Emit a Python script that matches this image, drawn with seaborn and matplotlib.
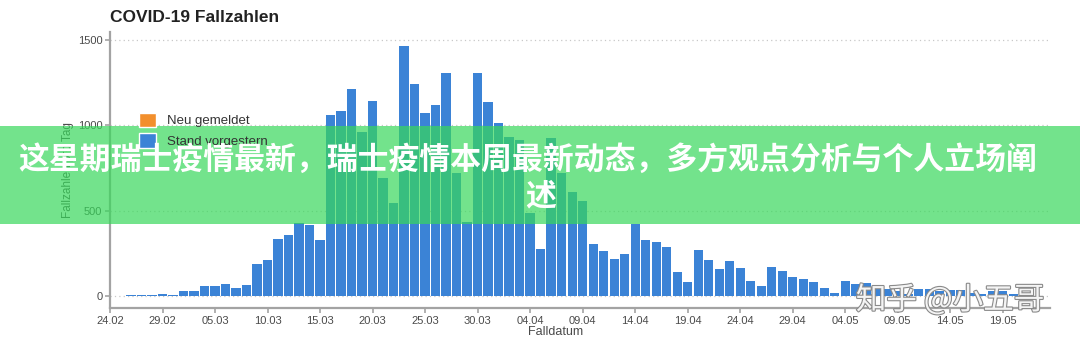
import matplotlib
matplotlib.use("Agg")
import matplotlib.pyplot as plt
import matplotlib.patheffects as pe
from matplotlib.patches import Patch, Rectangle
import numpy as np
import pandas as pd
import seaborn as sns

# Fallzahlen pro Tag ab 26.02.2020
faelle = [
    10, 10, 10, 12, 10, 33, 33, 60, 60, 74, 49, 68,            # 26.02 - 08.03
    190, 214, 334, 358, 426, 417, 330,                         # 09.03 - 15.03
    1060, 1084, 1212, 960, 1142, 692, 548,                     # 16.03 - 22.03
    1461, 1243, 1072, 1115, 1305, 719, 437,                    # 23.03 - 29.03
    1305, 1136, 1014, 929, 913, 486, 279,                      # 30.03 - 05.04
    925, 720, 612, 559, 307, 264, 218,                         # 06.04 - 12.04
    245, 423, 330, 317, 288, 144, 86,                          # 13.04 - 19.04
    272, 214, 160, 208, 165, 87, 60,                           # 20.04 - 26.04
    173, 151, 113, 101, 82, 48, 20,                            # 27.04 - 03.05
    91, 73, 76, 49, 42, 30, 15,                                # 04.05 - 10.05
    43, 43, 30, 35, 35, 22, 15,                                # 11.05 - 17.05
    33, 33, 15,                                                # 18.05 - 20.05
]
erster_tag = "2020-02-26"
achsen_start = "2020-02-24"
tick_labels = ["24.02", "29.02", "05.03", "10.03", "15.03", "20.03", "25.03",
               "30.03", "04.04", "09.04", "14.04", "19.04", "24.04", "29.04",
               "04.05", "09.05", "14.05", "19.05"]
y_ticks = [0, 500, 1000, 1500]
legend_labels = ["Neu gemeldet", "Stand vorgestern"]
title = "COVID-19 Fallzahlen"
banner_lines = ["这星期瑞士疫情最新，瑞士疫情本周最新动态，多方观点分析与个人立场阐", "述"]
watermark = "知乎 @小五哥"

blue = "#3b83d6"
orange = "#f28f2c"
grey = "#a3a3a3"

df = pd.DataFrame({
    "datum": pd.date_range(erster_tag, periods=len(faelle), freq="D"),
    "faelle": faelle,
})
df["tag"] = (df["datum"] - pd.Timestamp(achsen_start)).dt.days

sns.set_theme(style="white")
plt.rcParams["font.family"] = ["Liberation Sans", "Noto Sans CJK SC", "DejaVu Sans"]
cjk = ["Noto Sans CJK SC", "DejaVu Sans"]

W, H = 1080, 351
fig = plt.figure(figsize=(W / 100, H / 100), dpi=100)
ax = fig.add_axes([110 / W, 1 - 308 / H, 940 / W, (308 - 32) / H])

sns.barplot(data=df, x="tag", y="faelle", native_scale=True, color=blue,
            saturation=1, width=0.88, edgecolor="none", ax=ax, zorder=3)

ax.set_xlim(0, 89.5)
ax.set_ylim(-68, 1544)
ax.set_xticks(np.arange(len(tick_labels)) * 5)
ax.set_xticklabels(tick_labels)
ax.set_yticks(y_ticks)
ax.yaxis.grid(True, linestyle=(0, (1, 2.5)), color="#c8c8c8", linewidth=0.9)
ax.xaxis.grid(False)
ax.set_axisbelow(True)

for side in ["top", "right"]:
    ax.spines[side].set_visible(False)
for side in ["left", "bottom"]:
    ax.spines[side].set_color(grey)
    ax.spines[side].set_linewidth(1.6)
ax.tick_params(bottom=True, left=True, length=3.5, width=1.2, color=grey,
               labelsize=8, labelcolor="#4a4a4a", pad=2)

ax.set_xlabel("Falldatum", fontsize=9, color="#4a4a4a")
ax.xaxis.set_label_coords((556 - 110) / 940, -0.066)
ax.set_ylabel("Fallzahlen pro Tag", fontsize=8.5, color="#4a4a4a")
ax.yaxis.set_label_coords(-0.038, 0.5)

handles = [Patch(facecolor=orange), Patch(facecolor=blue)]
fig.legend(handles, legend_labels, loc="upper left",
           bbox_to_anchor=(127 / W, 1 - 101 / H), frameon=False, fontsize=9.5,
           handlelength=1.3, handleheight=1.3, labelspacing=0.45,
           handletextpad=0.8, labelcolor="#333333")

fig.text(110 / W, 1 - 17 / H, title, fontsize=12.5, fontweight="bold",
         ha="left", va="center", color="#222222")

# gruenes Banner mit Ueberschrift
fig.add_artist(Rectangle((0, 1 - 224 / H), 1, 98 / H, transform=fig.transFigure,
                         facecolor="#38d85b", alpha=0.7, edgecolor="none", zorder=5))
fig.text(528 / W, 1 - 160 / H, banner_lines[0], fontsize=22.2, fontweight="bold",
         color="white", ha="center", va="center", family=cjk, zorder=6)
fig.text(541 / W, 1 - 196 / H, banner_lines[1], fontsize=22.2, fontweight="bold",
         color="white", ha="center", va="center", family=cjk, zorder=6)

# Wasserzeichen
fig.text(950 / W, 1 - 300 / H, watermark, fontsize=22, color="#f4f4f4",
         ha="center", va="center", family=cjk,
         path_effects=[pe.withStroke(linewidth=1.6, foreground="#8a8a8a")],
         zorder=7)

fig.savefig("out.png", dpi=100)
